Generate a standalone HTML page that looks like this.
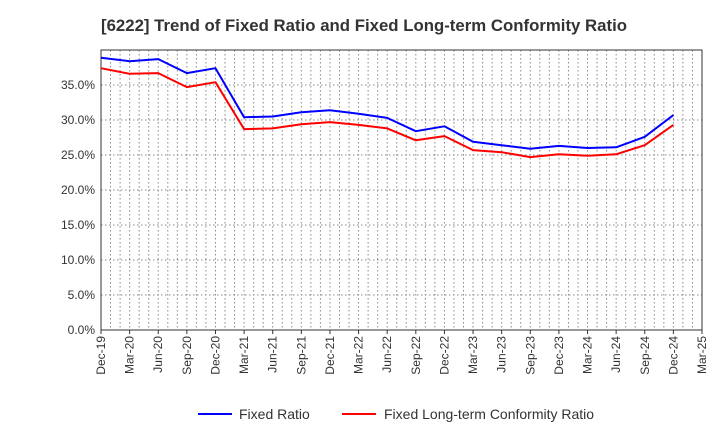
<!DOCTYPE html>
<html><head><meta charset="utf-8"><style>
body{margin:0;background:#fff;font-family:"Liberation Sans",sans-serif;}
svg text{font-family:"Liberation Sans",sans-serif;}
</style></head><body>
<svg width="720" height="440" xmlns="http://www.w3.org/2000/svg" id="chart">
<text x="364" y="31" text-anchor="middle" font-size="16.5" font-weight="bold" fill="#333" textLength="526" lengthAdjust="spacingAndGlyphs">[6222]  Trend of Fixed Ratio and Fixed Long-term Conformity Ratio</text>
<g id="grid"></g>
<g id="axes"></g>
<g id="series"></g>
<g>
<line x1="198" y1="414" x2="232" y2="414" stroke="#0000ff" stroke-width="2"/>
<text x="239" y="419" font-size="14" fill="#333">Fixed Ratio</text>
<line x1="342" y1="414" x2="376" y2="414" stroke="#ff0000" stroke-width="2"/>
<text x="384" y="419" font-size="14" fill="#333">Fixed Long-term Conformity Ratio</text>
</g>
</svg>
<script>
const categories=["Dec-19","Mar-20","Jun-20","Sep-20","Dec-20","Mar-21","Jun-21","Sep-21","Dec-21","Mar-22","Jun-22","Sep-22","Dec-22","Mar-23","Jun-23","Sep-23","Dec-23","Mar-24","Jun-24","Sep-24","Dec-24","Mar-25"];
const fixedRatio=[38.9,38.4,38.7,36.7,37.4,30.4,30.5,31.1,31.4,30.9,30.3,28.4,29.1,26.9,26.4,25.9,26.3,26.0,26.1,27.6,30.7];
const conformityRatio=[37.4,36.6,36.7,34.7,35.4,28.7,28.8,29.4,29.7,29.3,28.8,27.1,27.7,25.7,25.4,24.7,25.1,24.9,25.1,26.4,29.3];
const yTicks=[0,5,10,15,20,25,30,35];
const yTickLabels=["0.0%","5.0%","10.0%","15.0%","20.0%","25.0%","30.0%","35.0%"];
const NS="http://www.w3.org/2000/svg";
const L=101,R=702,T=50,B=330,yMax=40;
const x=i=>L+i*(R-L)/(categories.length-1);
const y=v=>B-(v/yMax)*(B-T);
function mk(tag,attrs,parent){const e=document.createElementNS(NS,tag);for(const k in attrs)e.setAttribute(k,attrs[k]);parent.appendChild(e);return e;}
const grid=document.getElementById('grid'),axes=document.getElementById('axes'),series=document.getElementById('series');
const nMonths=(categories.length-1)*3;
for(let m=1;m<nMonths;m++){const xx=L+m*(R-L)/nMonths;
const g=mk('line',{x1:xx,x2:xx,y1:T,y2:B,stroke:'#888','stroke-dasharray':'1.5,2.5','stroke-width':1},grid);

}
yTicks.forEach((v,i)=>{const yy=y(v);
if(v>0){const g=mk('line',{x1:L,x2:R,y1:yy,y2:yy,stroke:'#888','stroke-dasharray':'1.5,2.5','stroke-width':1},grid);

}
const t=mk('text',{x:L-6,y:yy+4,'text-anchor':'end','font-size':12,fill:'#333'},axes);t.textContent=yTickLabels[i];

});
const frame=mk('rect',{x:L,y:T,width:R-L,height:B-T,fill:'none',stroke:'#333','stroke-width':1},axes);


categories.forEach((c,i)=>{const xx=x(i);
mk('line',{x1:xx,x2:xx,y1:B,y2:B+4,stroke:'#333'},axes);
const t=mk('text',{x:xx+4,y:B+6,'text-anchor':'end','font-size':12,fill:'#333',transform:`rotate(-90 ${xx+4} ${B+6})`},axes);t.textContent=c;

});
function line(data,color,name){const p=mk('polyline',{points:data.map((v,i)=>x(i)+','+y(v)).join(' '),fill:'none',stroke:color,'stroke-width':2,'stroke-linejoin':'round'},series);

}
line(fixedRatio,'#0000ff','fixed-ratio-line');
line(conformityRatio,'#ff0000','conformity-ratio-line');
</script>
</body></html>
